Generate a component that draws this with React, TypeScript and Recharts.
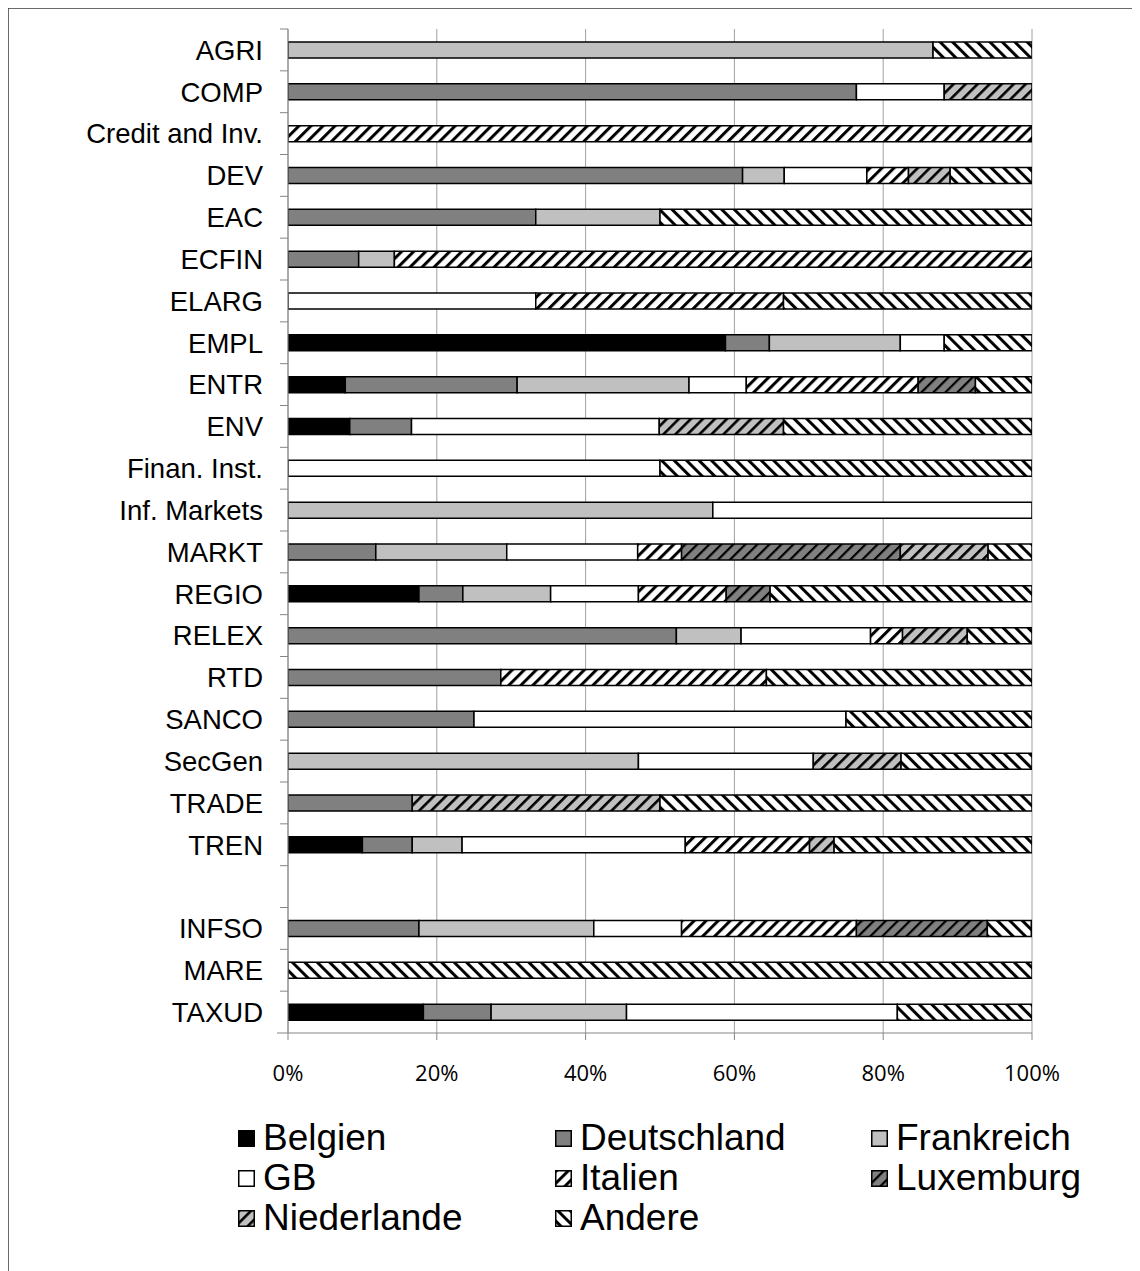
import React from 'react';
import { BarChart, Bar, XAxis, YAxis, CartesianGrid, Legend, Customized } from 'recharts';

const categories = ['AGRI', 'COMP', 'Credit and Inv.', 'DEV', 'EAC', 'ECFIN', 'ELARG', 'EMPL', 'ENTR', 'ENV', 'Finan. Inst.', 'Inf. Markets', 'MARKT', 'REGIO', 'RELEX', 'RTD', 'SANCO', 'SecGen', 'TRADE', 'TREN', ' ', 'INFSO', 'MARE', 'TAXUD'];

const belgien = [0, 0, 0, 0, 0, 0, 0, 58.8, 7.7, 8.3, 0, 0, 0, 17.6, 0, 0, 0, 0, 0, 10, 0, 0, 0, 18.2];
const deutschland = [0, 76.4, 0, 61.1, 33.3, 9.5, 0, 5.9, 23.1, 8.3, 0, 0, 11.8, 5.9, 52.2, 28.6, 25, 0, 16.7, 6.7, 0, 17.6, 0, 9.1];
const frankreich = [86.7, 0, 0, 5.6, 16.7, 4.8, 0, 17.6, 23.1, 0, 0, 57.1, 17.6, 11.8, 8.7, 0, 0, 47.1, 0, 6.7, 0, 23.5, 0, 18.2];
const gb = [0, 11.8, 0, 11.1, 0, 0, 33.3, 5.9, 7.7, 33.3, 50, 42.9, 17.6, 11.8, 17.4, 0, 50, 23.5, 0, 30, 0, 11.8, 0, 36.4];
const italien = [0, 0, 100, 5.6, 0, 85.7, 33.3, 0, 23.1, 0, 0, 0, 5.9, 11.8, 4.3, 35.7, 0, 0, 0, 16.7, 0, 23.5, 0, 0];
const luxemburg = [0, 0, 0, 0, 0, 0, 0, 0, 7.7, 0, 0, 0, 29.4, 5.9, 0, 0, 0, 0, 0, 0, 0, 17.6, 0, 0];
const niederlande = [0, 11.8, 0, 5.6, 0, 0, 0, 0, 0, 16.7, 0, 0, 11.8, 0, 8.7, 0, 0, 11.8, 33.3, 3.3, 0, 0, 0, 0];
const andere = [13.3, 0, 0, 11.1, 50, 0, 33.4, 11.8, 7.7, 33.4, 50, 0, 5.9, 35.3, 8.7, 35.7, 25, 17.6, 50, 26.7, 0, 5.9, 100, 18.2];

const xTicks = [0, 20, 40, 60, 80, 100];

const series = [
  { key: 'belgien', name: 'Belgien', fill: '#000000', values: belgien },
  { key: 'deutschland', name: 'Deutschland', fill: '#808080', values: deutschland },
  { key: 'frankreich', name: 'Frankreich', fill: '#c0c0c0', values: frankreich },
  { key: 'gb', name: 'GB', fill: '#ffffff', values: gb },
  { key: 'italien', name: 'Italien', fill: 'url(#patItalien)', values: italien },
  { key: 'luxemburg', name: 'Luxemburg', fill: 'url(#patLux)', values: luxemburg },
  { key: 'niederlande', name: 'Niederlande', fill: 'url(#patNL)', values: niederlande },
  { key: 'andere', name: 'Andere', fill: 'url(#patAndere)', values: andere },
];

const data = categories.map((name, i) => {
  const row: Record<string, any> = { name };
  series.forEach((s) => {
    row[s.key] = s.values[i];
  });
  return row;
});

const CHART_W = 1127;
const CHART_H = 1264;
const MARGIN = { top: 22, right: 102, left: 0, bottom: 33 };
const XAXIS_H = 85;
const LEGEND_H = 120;
const PLOT_H = CHART_H - MARGIN.top - MARGIN.bottom - XAXIS_H - LEGEND_H;
const BAND = PLOT_H / categories.length;

const YTick = (props: any) => {
  const { x, y, payload, index } = props;
  const last = index === categories.length - 1;
  return (
    <g>
      <line x1={x - 8} x2={x} y1={y - BAND / 2} y2={y - BAND / 2} stroke="#868686" strokeWidth={1} />
      {last && <line x1={x - 11} x2={x} y1={y + BAND / 2} y2={y + BAND / 2} stroke="#868686" strokeWidth={1} />}
      <text x={x - 25} y={y} dy="0.355em" textAnchor="end" fontFamily="'Liberation Sans', Arial, sans-serif" fontSize={27.5} fill="#000">
        {payload.value}
      </text>
    </g>
  );
};

const Frame = () => (
  <rect x={1} y={1} width={CHART_W - 2} height={CHART_H + 40} fill="none" stroke="#3a3a3a" strokeWidth={1.5} />
);

const legendCols = [231, 548, 864];

const renderLegend = () => (
  <div style={{ position: 'relative', width: CHART_W, height: LEGEND_H, fontFamily: "'Liberation Sans', Arial, sans-serif", fontSize: 37, color: '#000' }}>
    {series.map((s, i) => {
      const col = i % 3;
      const row = Math.floor(i / 3);
      return (
        <div key={s.key} style={{ position: 'absolute', left: legendCols[col], top: row * 40, height: 40, display: 'flex', alignItems: 'center', whiteSpace: 'nowrap' }}>
          <svg width={17} height={17} style={{ display: 'block' }}>
            <rect x={0.75} y={0.75} width={15.5} height={15.5} fill={s.fill} stroke="#000" strokeWidth={1.5} />
          </svg>
          <span style={{ marginLeft: 8, lineHeight: '40px' }}>{s.name}</span>
        </div>
      );
    })}
  </div>
);

const Patterns = () => (
  <svg width={0} height={0} style={{ position: 'absolute' }}>
    <defs>
      <pattern id="patItalien" patternUnits="userSpaceOnUse" width={8.5} height={8.5} patternTransform="rotate(45)">
        <rect x={0} y={0} width={8.5} height={8.5} fill="#ffffff" />
        <rect x={0} y={0} width={3} height={8.5} fill="#000000" />
      </pattern>
      <pattern id="patLux" patternUnits="userSpaceOnUse" width={8.5} height={8.5} patternTransform="rotate(45)">
        <rect x={0} y={0} width={8.5} height={8.5} fill="#808080" />
        <rect x={0} y={0} width={2.2} height={8.5} fill="#000000" />
      </pattern>
      <pattern id="patNL" patternUnits="userSpaceOnUse" width={8.5} height={8.5} patternTransform="rotate(45)">
        <rect x={0} y={0} width={8.5} height={8.5} fill="#c0c0c0" />
        <rect x={0} y={0} width={2.6} height={8.5} fill="#000000" />
      </pattern>
      <pattern id="patAndere" patternUnits="userSpaceOnUse" width={8.8} height={8.8} patternTransform="rotate(-45)">
        <rect x={0} y={0} width={8.8} height={8.8} fill="#ffffff" />
        <rect x={0} y={0} width={3} height={8.8} fill="#000000" />
      </pattern>
    </defs>
  </svg>
);

export default function App() {
  return (
    <div style={{ marginLeft: -1, marginTop: -1, width: CHART_W, height: CHART_H, position: 'relative', background: '#fff' }}>
      <Patterns />
      <BarChart width={CHART_W} height={CHART_H} data={data} layout="vertical" margin={MARGIN} barSize={16}>
        <Customized component={Frame} />
        <CartesianGrid horizontal={false} vertical={true} stroke="#a0a0a0" strokeWidth={1} />
        <XAxis
          type="number"
          domain={[0, 100]}
          ticks={xTicks}
          allowDataOverflow
          tickFormatter={(v: number) => `${v}%`}
          height={XAXIS_H}
          tickSize={7}
          tickMargin={25}
          stroke="#868686"
          tick={{ fontFamily: "'Open Sans', sans-serif", fontSize: 22, fill: '#000' }}
          interval={0}
        />
        <YAxis
          type="category"
          dataKey="name"
          width={281}
          tickSize={0}
          tickMargin={0}
          interval={0}
          stroke="#868686"
          tick={<YTick />}
        />
        <Legend verticalAlign="bottom" content={renderLegend} wrapperStyle={{ left: 0, width: CHART_W, height: LEGEND_H }} />
        {series.map((s) => (
          <Bar key={s.key} dataKey={s.key} name={s.name} stackId="a" fill={s.fill} stroke="#000" strokeWidth={1.5} isAnimationActive={false} />
        ))}
      </BarChart>
    </div>
  );
}
